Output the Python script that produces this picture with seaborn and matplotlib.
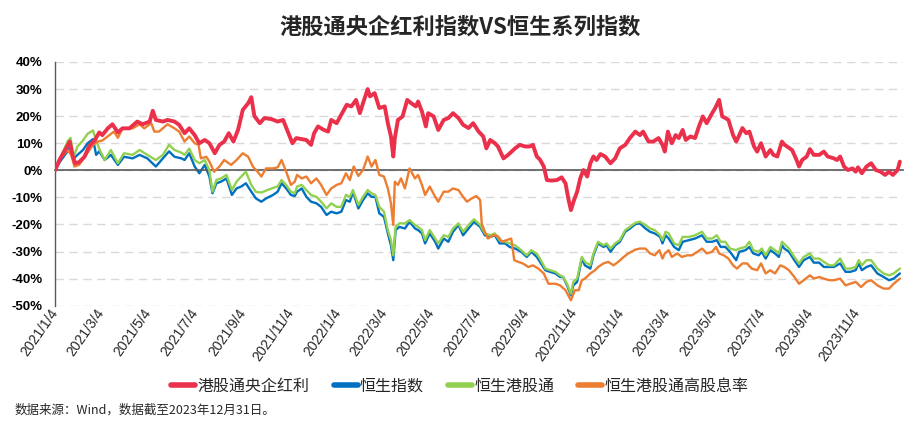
import pandas as pd
import matplotlib
matplotlib.use('Agg')
import matplotlib.pyplot as plt
import matplotlib.dates as mdates
import seaborn as sns

# 数据：日期以 2021/1/4 起的自然日计，数值为累计收益率(%)
base_date = pd.Timestamp('2021-01-04')

red_day = [0, 6, 14, 19, 23, 26, 31, 38, 44, 51, 57, 61, 68, 74, 81, 87, 96, 106, 113, 122, 126, 130, 139, 145,
           154, 160, 167, 173, 180, 186, 193, 199, 206, 212, 218, 224, 230, 236, 242, 249, 253, 257, 264, 270, 279, 287, 294, 300, 306,
           311, 318, 324, 330, 334, 339, 346, 352, 356, 363, 369, 376, 382, 388, 393, 397, 403, 406, 412, 418, 425, 429, 433, 436, 438, 442, 448, 454, 459, 465,
           468, 473, 478, 481, 488, 494, 501, 507, 513, 520, 526, 533, 539, 546, 552, 556, 561, 567, 571, 578, 584, 593, 599, 606, 612, 616, 621,
           625, 630, 634, 640, 647, 653, 658, 662, 665, 669, 673, 677, 681, 686, 690, 694, 698, 703, 709, 716, 722, 728, 735, 741, 748, 754, 758, 765, 771, 778,
           783, 786, 790, 795, 800, 804, 809, 813, 819, 825, 830, 835, 840, 847, 851, 856, 860, 864, 868, 874, 878, 882, 886, 891, 895, 901, 905, 910, 916, 922, 926, 931, 937,
           940, 945, 950, 955, 959, 963, 969, 973, 978, 985, 991, 996, 1004, 1008, 1012, 1017, 1022, 1028, 1032, 1035, 1040, 1046, 1052, 1058, 1064, 1070, 1075, 1080, 1086, 1089]
red_val = [0, 4, 8, 10.6, 5, 2.6, 3, 5, 9, 11, 14, 13, 15.5, 17, 14, 15.5, 15.5, 18, 17, 18, 22, 18.6, 18, 18.6,
           18, 16.8, 13.7, 15.5, 13, 10, 11.2, 10, 6.3, 9.4, 10.6, 13.7, 10.6, 15, 22.3, 24.8, 27, 20, 17.4, 19.3, 18.9, 18, 18.6, 14.3, 10,
           11.9, 11.5, 11.2, 9.4, 13.7, 16.2, 15, 14.3, 18.6, 17.4, 20.5, 24.2, 23.6, 26, 21.1, 24.8, 30, 27.3, 28.5, 23, 23.6, 17.4, 12.5, 5.1, 11.9, 18.6, 19.9, 26, 24.8, 23.6,
           25.4, 21.7, 16.2, 21.1, 19.9, 14.9, 18.6, 19.3, 21.1, 19.3, 16.8, 15.6, 17.4, 14.3, 12.5, 8.1, 11.2, 10, 8.8, 4.4, 5.7, 8.1, 9.4, 8.8, 8.8, 9.4, 5.1,
           4, 1.4, -3.6, -3.8, -3.6, -2.6, -4.8, -11, -14.7, -11, -7.9, -3, 0.1, -2.3, 2.6, 5.1, 3.8, 6, 5.1, 2.6, 4.4, 8.1, 9.4, 11.9, 14.3, 13, 14.3, 10.6, 10.6, 11.9,
           9.4, 6.9, 14.3, 10, 13, 11.9, 14.9, 11.2, 12.5, 11.9, 16.2, 19.9, 17.4, 21.1, 23, 26, 19.9, 19.3, 18.6, 13, 10.6, 13, 15.6, 13.7, 14.3, 8.8, 6.9, 10, 5.1, 7.5, 5.7, 5.1, 10.6,
           9.5, 8.5, 7.5, 4.4, 1.4, 3.8, 5.1, 7.8, 5.7, 5.7, 6.9, 5.1, 4.4, 3.8, 5.1, 1.4, 0.1, 0.7, -0.5, 1.1, -1.1, 1.4, 2.6, 0.1, -0.5, -1.7, -0.5, -1.7, 0.1, 3.2]

orange_day = [0, 6, 16, 21, 25, 31, 40, 49, 55, 61, 70, 76, 81, 87, 100, 109, 115, 124, 128, 134, 145,
              154, 160, 167, 173, 180, 185, 188, 195, 199, 205, 212, 218, 227, 234, 242, 249, 255, 261, 266, 272, 281, 287, 292, 298, 304, 309,
              312, 318, 324, 330, 337, 343, 350, 356, 363, 369, 375, 380, 385, 391, 397, 403, 408, 413, 418, 424, 429, 433, 436, 438, 442, 446, 451, 457, 464,
              468, 473, 477, 483, 490, 494, 501, 507, 513, 520, 526, 531, 537, 543, 548, 550, 554, 558, 565, 571, 576, 582, 588, 592, 597, 603, 610, 616, 623,
              630, 636, 645, 651, 658, 665, 670, 675, 679, 683, 690, 696, 700, 707, 713, 720, 726, 733, 739, 748, 754, 761, 767, 773, 779,
              783, 786, 791, 795, 802, 808, 815, 821, 828, 834, 840, 847, 852, 856, 862, 868, 874, 879, 886, 892, 898, 905, 910, 916, 922, 928, 935,
              940, 946, 953, 959, 965, 973, 978, 985, 991, 998, 1004, 1012, 1019, 1025, 1032, 1039, 1046, 1052, 1060, 1068, 1075, 1081, 1089]
orange_val = [0, 4, 7.5, 5.7, 1.4, 2, 5.7, 9.4, 10.6, 11, 13, 14.3, 12, 15.5, 15.5, 17, 15.5, 17.4, 14.3, 14.3, 17,
              15.5, 14.3, 10.6, 12.5, 10, 9.4, 4.4, 5, 3.2, -0.5, 1.4, 3.8, 2, 3.8, 6.3, 5, 1.4, -0.5, -2.3, 0.7, 0.7, 1.1, 3.8, -0.5, -5.4, -4.2,
              -1.7, -3, -2.3, -4.8, -3, -5.4, -9.1, -6.7, -5.4, -4.8, -1.1, -3.6, 1.4, -2.1, 0.1, 5.1, 1.4, 3.8, -1.7, -2.3, -6.7, -12.2, -20.2, -4.2, -5.4, -3, -6.7, 0.7, -3,
              -1.7, -5.4, -9.1, -6, -9.8, -11.6, -7.9, -7.9, -6.7, -7.3, -9.8, -11.6, -10.4, -9.5, -11, -19.6, -22.7, -25.2, -23.9, -24.4, -26.4, -25.8, -25.2, -33.2, -33.8, -34.4, -35.7, -35.1, -36.3,
              -38.1, -41.9, -41.9, -42.5, -44.3, -48, -44.3, -44.3, -40.6, -40, -38.1, -36.9, -35.7, -34.4, -33.8, -35.1, -33.8, -32, -30.7, -29.3, -28.9, -28.9, -30.7, -31.4, -29.5,
              -32.6, -30.7, -29.5, -32, -30.7, -32, -31.4, -31.4, -30.1, -28.9, -30.7, -30.1, -28.3, -30.7, -31.4, -32.6, -35.1, -36.3, -34.4, -34.4, -36.3, -36.9, -34.4, -38.1, -36.9, -38.1, -35.1,
              -35.7, -36.9, -39.4, -41.9, -40.6, -38.8, -40, -39.4, -40, -40.6, -40.6, -40, -42.5, -41.9, -41.2, -43.1, -41.2, -40.6, -42.5, -43.7, -43.7, -41.9, -40]

# 恒生指数 / 恒生港股通 共用日期
hs_day = [0, 6, 16, 20, 24, 29, 36, 42, 49, 53, 57, 64, 72, 81, 89, 100, 109, 119, 130, 139, 147,
          154, 163, 167, 173, 180, 186, 193, 199, 203, 208, 214, 221, 228, 234, 240, 246, 253, 259, 266, 272, 281, 287, 292, 298, 304, 309,
          312, 318, 324, 330, 337, 343, 350, 356, 363, 369, 375, 380, 384, 391, 397, 403, 408, 413, 418, 424, 429, 433, 436, 439, 444, 451, 457, 464,
          468, 473, 477, 483, 490, 494, 501, 507, 513, 520, 526, 533, 540, 548, 554, 561, 567, 573, 580, 586, 593, 601, 608, 614, 621,
          625, 632, 638, 645, 651, 655, 660, 665, 668, 673, 679, 683, 690, 694, 700, 707, 711, 716, 722, 728, 735, 741, 748, 754, 761, 767, 773, 780,
          783, 787, 791, 798, 804, 809, 817, 825, 834, 840, 847, 853, 858, 864, 870, 878, 882, 890, 895, 900, 907, 911, 916, 922, 928, 933, 937,
          940, 946, 953, 959, 965, 973, 978, 985, 991, 998, 1004, 1012, 1019, 1025, 1032, 1036, 1040, 1046, 1052, 1060, 1068, 1075, 1081, 1089]
hsi_val = [0, 3, 7, 8.8, 4.4, 5.7, 7.5, 10, 11.5, 5.7, 7, 3.8, 5.7, 2, 5, 4.4, 5.7, 4.4, 1.4, 4.4, 7,
           5, 4.4, 3.8, 6.3, 1.4, -1.1, 2, -2.3, -8.5, -4.8, -4.2, -3, -9.1, -6.7, -6, -4.8, -7.9, -10.4, -11.6, -10.4, -9.1, -7.9, -4.8, -6.7, -9.1, -9.5,
           -7.9, -6.7, -9.8, -11.6, -12.2, -13.5, -16.5, -15.3, -15.9, -15.3, -11, -11.6, -7.9, -14.1, -11, -8.5, -9.8, -9.8, -15.9, -17.2, -23.3, -27.7, -33.2, -22.1, -20.9, -21.5, -19, -21.5,
           -22.1, -23.3, -27, -23.3, -26.4, -28.9, -25.2, -26.4, -22.7, -20.2, -24, -21.5, -19, -20.9, -24, -24.6, -24, -27, -27, -28.3, -28.9, -30.1, -32, -30.1, -32,
           -33.8, -36.9, -37.5, -38.1, -39.4, -39.4, -42.5, -46.2, -42.5, -41.2, -32.6, -35.1, -36.3, -31.4, -27, -28.3, -27.7, -30.1, -27.7, -26.4, -22.7, -21.5, -19.9, -19.6, -21.5, -22.7, -23.3, -24.6,
           -27, -24, -25.2, -28.3, -29.5, -26.4, -25.8, -25.2, -24, -26.4, -26.4, -25.8, -28.3, -28.3, -30.1, -33.2, -30.1, -29.5, -28.3, -30.7, -31.4, -30.1, -32.6, -29.5, -30.7, -32, -27.7,
           -28.9, -30.1, -33.2, -35.7, -33.2, -32, -34.1, -34.1, -35.7, -35.7, -35.7, -34.4, -37.5, -37.5, -36.9, -34.4, -36.9, -35.7, -35.1, -38.1, -39.4, -40.6, -40, -38.1]
hsgt_val = [0, 4, 10.6, 12, 5, 8.8, 11, 13.5, 14.7, 11, 8, 3.8, 7.5, 2.6, 6.3, 5.7, 7.5, 5.7, 3.8, 5.7, 9.4,
            7.5, 6.5, 5.7, 8, 3.8, 2.6, 3.8, 0, -7.9, -3.6, -3, -1.7, -7.3, -4.2, -2.3, -0.5, -5.4, -8, -8.2, -7.5, -6.5, -6, -3.6, -5.4, -7.9, -8.5,
            -6, -5.4, -7.3, -9.1, -9.8, -11.6, -14.1, -12.2, -13.5, -13.5, -9.1, -9.8, -7.3, -12.8, -9.8, -7.3, -8.5, -9.1, -13.5, -15.3, -22.1, -25.8, -31.4, -20.9, -19.6, -19.6, -18.4, -20.2,
            -20.9, -22.1, -25.8, -22.1, -25.2, -27, -24, -24.6, -21.5, -19.6, -22.7, -20.2, -18.1, -20.2, -23.3, -24, -23.3, -25.8, -26.4, -27, -27.7, -29.5, -31.4, -29.5, -30.8,
            -32.6, -36.3, -36.9, -37.5, -38.8, -39.4, -42, -45.6, -41.2, -40, -32, -33.8, -35.1, -30.7, -26.4, -27.7, -27, -28.9, -27, -25.8, -22.1, -20.9, -19.4, -19, -20.2, -21.5, -22.1, -24,
            -25.8, -22.7, -23.3, -27, -27.7, -24.6, -24.6, -24, -22.7, -25.2, -25.2, -24, -26.4, -26.4, -28.9, -29.5, -28.9, -28.3, -26.4, -29.5, -30.1, -28.9, -31.4, -28.3, -29.5, -30.7, -26.4,
            -27.2, -28.9, -32, -34.4, -32, -30.7, -32.6, -32.6, -33.8, -35.1, -35.1, -32.6, -36.3, -36.3, -35.7, -33.2, -35.1, -33.2, -33.2, -36.3, -38.1, -38.8, -38.1, -36.3]

tick_labels = ['2021/1/4', '2021/3/4', '2021/5/4', '2021/7/4', '2021/9/4', '2021/11/4',
               '2022/1/4', '2022/3/4', '2022/5/4', '2022/7/4', '2022/9/4', '2022/11/4',
               '2023/1/4', '2023/3/4', '2023/5/4', '2023/7/4', '2023/9/4', '2023/11/4']
y_ticks = [-50, -40, -30, -20, -10, 0, 10, 20, 30, 40]

series_names = ['港股通央企红利', '恒生指数', '恒生港股通', '恒生港股通高股息率']
colors = ['#EA304B', '#0070C0', '#92D050', '#ED7D31']

sns.set_theme(style='white')
plt.rcParams['font.family'] = ['Noto Sans CJK SC', 'DejaVu Sans']
plt.rcParams['axes.unicode_minus'] = False

fig = plt.figure(figsize=(9.2, 4.36), dpi=100)
ax = fig.add_axes([0.0598, 0.2989, 0.9217, 0.5589])


def to_dates(days):
    return base_date + pd.to_timedelta(days, unit='D')


series = [
    (red_day, red_val, 2.8, 5),
    (hs_day, hsi_val, 1.7, 2),
    (hs_day, hsgt_val, 1.7, 3),
    (orange_day, orange_val, 1.7, 4),
]
for name, color, (days, vals, lw, z) in zip(series_names, colors, series):
    df = pd.DataFrame({'date': to_dates(days), 'ret': vals})
    sns.lineplot(data=df, x='date', y='ret', ax=ax, color=color, linewidth=lw,
                 label=name, zorder=z, estimator=None)

# axes
ax.set_ylim(-50, 40)
ax.set_xlim(base_date, base_date + pd.Timedelta(days=1093))
ax.set_yticks(y_ticks)
ax.set_yticklabels([f'{v}%' for v in y_ticks])
for lbl in ax.get_yticklabels():
    lbl.set_fontfamily('Liberation Sans')
    lbl.set_fontweight('bold')
    lbl.set_fontsize(9.5)
ax.tick_params(axis='y', length=0, pad=9, colors='black')
ax.set_xlabel('')
ax.set_ylabel('')

ax.yaxis.grid(True, color='#D9D9D9', linestyle=(0, (6, 4)), linewidth=1)
ax.set_axisbelow(True)

for s in ['top', 'right']:
    ax.spines[s].set_visible(False)
ax.spines['left'].set_color('#595959')
ax.spines['left'].set_linewidth(1)
ax.spines['bottom'].set_position(('data', 0))
ax.spines['bottom'].set_color('#595959')
ax.spines['bottom'].set_linewidth(1.2)

tick_dates = pd.to_datetime(tick_labels, format='%Y/%m/%d')
tick_nums = mdates.date2num(tick_dates)
ax.set_xticks(tick_nums)
ax.tick_params(axis='x', direction='in', length=4, width=1, color='#595959',
               labelbottom=False)

sec = ax.secondary_xaxis(0.0)
sec.set_xticks(tick_nums)
sec.set_xticklabels(tick_labels)
sec.tick_params(length=0, pad=3)
sec.spines['bottom'].set_visible(False)
for lbl in sec.get_xticklabels():
    lbl.set_rotation(55)
    lbl.set_rotation_mode('anchor')
    lbl.set_ha('right')
    lbl.set_va('center')
    lbl.set_fontfamily(['Liberation Sans Narrow', 'Liberation Sans'])
    lbl.set_fontsize(10)

# legend
handles, labels = ax.get_legend_handles_labels()
ax.get_legend().remove()
leg = fig.legend(handles, labels, loc='center', bbox_to_anchor=(0.5, 0.115), ncol=4,
                 frameon=False, handlelength=1.5, handletextpad=0.15, columnspacing=1.5,
                 prop={'family': 'Noto Sans CJK SC', 'size': 11.5, 'weight': 'medium'})
for h in leg.legend_handles:
    h.set_linewidth(4)

fig.text(0.5, 0.938, '港股通央企红利指数VS恒生系列指数', ha='center', va='center',
         fontsize=16, fontweight='bold')
fig.text(0.016, 0.06, '数据来源：Wind，数据截至2023年12月31日。', ha='left', va='center',
         fontsize=9)

fig.savefig('out.png', dpi=100)
